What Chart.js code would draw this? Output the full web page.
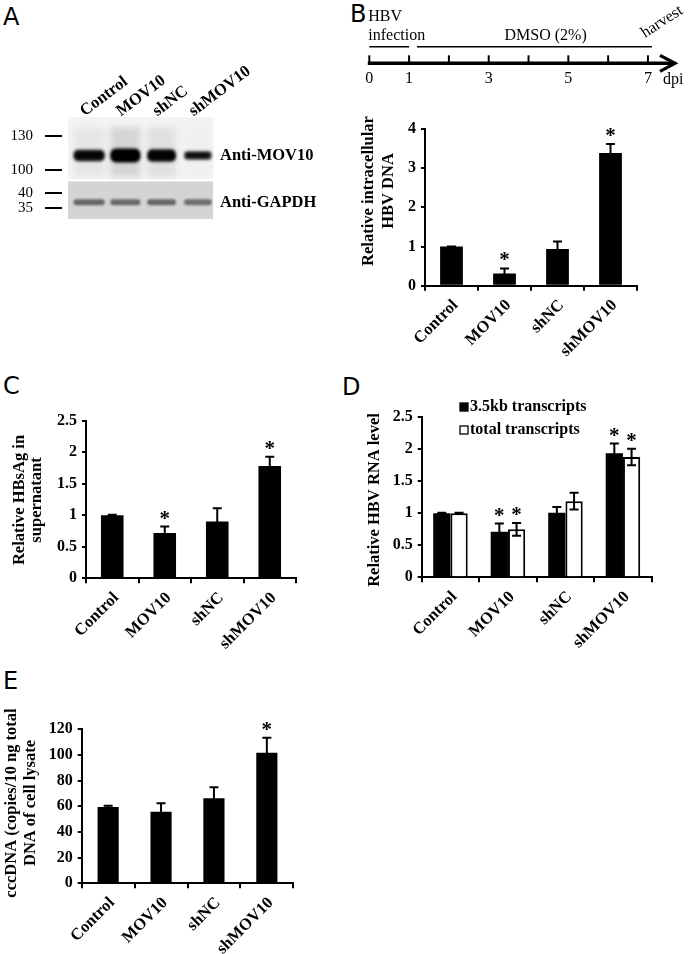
<!DOCTYPE html>
<html>
<head>
<meta charset="utf-8">
<script src="https://cdn.jsdelivr.net/npm/chart.js@4.4.1/dist/chart.umd.min.js"></script>
<style>
body{margin:0;background:#fff;width:693px;height:954px;position:relative;overflow:hidden}
canvas{position:absolute}
.tag{position:absolute;font:24px 'DejaVu Sans',sans-serif;line-height:1;color:#000}
</style>
</head>
<body>
<div class="tag" style="left:3px;top:5px">A</div>
<div class="tag" style="left:350px;top:2px">B</div>
<div class="tag" style="left:3px;top:374px">C</div>
<div class="tag" style="left:342px;top:375px">D</div>
<div class="tag" style="left:3px;top:669px">E</div>

<canvas id="blot" width="350" height="240" style="left:0;top:0"></canvas>
<canvas id="timeline" width="343" height="100" style="left:350px;top:0"></canvas>
<canvas id="chartB" width="343" height="260" style="left:350px;top:100px"></canvas>
<canvas id="chartC" width="345" height="250" style="left:0;top:400px"></canvas>
<canvas id="chartD" width="348" height="270" style="left:345px;top:380px"></canvas>
<canvas id="chartE" width="345" height="274" style="left:0;top:680px"></canvas>

<script>
// ---- data ----
const groups = ['Control', 'MOV10', 'shNC', 'shMOV10'];

// A: western blot (positions on a 0-1 scale of the blot height)
const markerLabels = ['130', '100', '40', '35'];
const markerPos = [0.811, 0.481, 0.255, 0.104];
const probes = ['Anti-MOV10', 'Anti-GAPDH'];
const probePos = [0.623, 0.163];
const panelSplit = [0.391, 0.368];
const mov10Band = [0.75, 1.0, 0.85, 0.45];
const gapdhBand = [0.55, 0.5, 0.55, 0.45];

// B: timeline
const timelineDays = [0, 1, 2, 3, 4, 5, 6, 7];
const timelineLabels = [0, 1, 3, 5, 7];
const phaseNames = [['HBV', 'infection'], ['DMSO (2%)']];
const phaseStart = [0, 1.2];
const phaseEnd = [1, 7.1];
const phaseLabelAt = [0, 4.43];

// B: intracellular HBV DNA
const dnaVals = [1.0, 0.31, 0.94, 3.39];
const dnaErr = [0.0, 0.13, 0.19, 0.23];
const dnaSig = [0, 1, 0, 1];
const ticksB = [0, 1, 2, 3, 4];

// C: HBsAg
const hbsVals = [1.0, 0.72, 0.90, 1.78];
const hbsErr = [0.01, 0.10, 0.21, 0.15];
const hbsSig = [0, 1, 0, 1];
const ticksC = [0, 0.5, 1, 1.5, 2, 2.5];

// D: HBV RNA
const rna35Vals = [1.0, 0.71, 1.01, 1.94];
const rna35Err = [0.01, 0.13, 0.09, 0.15];
const rna35Sig = [0, 1, 0, 1];
const rnaTotVals = [1.0, 0.75, 1.19, 1.88];
const rnaTotErr = [0.01, 0.10, 0.13, 0.13];
const rnaTotSig = [0, 1, 0, 1];
const ticksD = [0, 0.5, 1, 1.5, 2, 2.5];

// E: cccDNA
const cccVals = [59.5, 55.8, 66.2, 101.8];
const cccErr = [1.0, 6.5, 8.6, 11.7];
const cccSig = [0, 0, 0, 1];
const ticksE = [0, 20, 40, 60, 80, 100, 120];

// ---- setup ----
const serif = "'Liberation Serif', 'Times New Roman', serif";
Chart.defaults.font.family = serif;
Chart.defaults.color = '#000';

const errorPlugin = {
  id: 'errorBars',
  afterDatasetsDraw(chart) {
    const ctx = chart.ctx, y = chart.scales.y;
    chart.data.datasets.forEach((ds, di) => {
      chart.getDatasetMeta(di).data.forEach((bar, i) => {
        const v = ds.data[i], e = ds.errors[i];
        const x = bar.x, top = y.getPixelForValue(v + e), bot = y.getPixelForValue(v - e);
        ctx.save();
        ctx.strokeStyle = '#000';
        ctx.lineWidth = 2;
        ctx.beginPath();
        ctx.moveTo(x, top); ctx.lineTo(x, bot);
        ctx.moveTo(x - 4.5, top); ctx.lineTo(x + 4.5, top);
        ctx.moveTo(x - 4.5, bot); ctx.lineTo(x + 4.5, bot);
        ctx.stroke();
        if (ds.stars[i]) {
          ctx.fillStyle = '#000';
          ctx.font = 'bold 21px ' + serif;
          ctx.textAlign = 'center';
          ctx.fillText('*', x, top - 2);
        }
        ctx.restore();
      });
    });
  }
};

const titlePlugin = {
  id: 'yTitle',
  afterDraw(chart, args, o) {
    const ctx = chart.ctx;
    ctx.save();
    ctx.font = 'bold 16.5px ' + serif;
    ctx.fillStyle = '#000';
    ctx.textAlign = 'center';
    ctx.textBaseline = 'middle';
    o.lines.forEach((t, k) => {
      ctx.save();
      ctx.translate(o.x + k * o.gap, o.y);
      ctx.rotate(-Math.PI / 2);
      ctx.fillText(t, 0, 0);
      ctx.restore();
    });
    ctx.restore();
  }
};

const keyPlugin = {
  id: 'keyBox',
  afterDraw(chart, args, o) {
    const ctx = chart.ctx;
    ctx.save();
    ctx.font = 'bold 16px ' + serif;
    ctx.textBaseline = 'middle';
    chart.data.datasets.forEach((ds, k) => {
      const yy = o.y + k * o.gap;
      ctx.fillStyle = ds.backgroundColor;
      ctx.fillRect(o.x, yy - 4, 8, 8);
      ctx.strokeStyle = '#000';
      ctx.lineWidth = 1.3;
      ctx.strokeRect(o.x, yy - 4, 8, 8);
      ctx.fillStyle = '#000';
      ctx.fillText(ds.label, o.x + 10, yy);
    });
    ctx.restore();
  }
};

function barChart(id, datasets, tickVals, box) {
  return new Chart(document.getElementById(id), {
    type: 'bar',
    data: {labels: groups, datasets: datasets},
    options: {
      responsive: false,
      animation: false,
      layout: {padding: {top: box.top, right: box.right, left: 0, bottom: 0}},
      plugins: {
        legend: {display: false},
        tooltip: {enabled: false},
        yTitle: box.title,
        keyBox: box.key || false
      },
      scales: {
        x: {
          grid: {drawOnChartArea: false, offset: true, color: '#000', lineWidth: 2, tickLength: 5},
          border: {color: '#000', width: 2},
          ticks: {font: {size: 16.5, weight: 'bold'}, color: '#000', minRotation: 45, maxRotation: 45,
                  autoSkip: false, padding: 5, labelOffset: 4},
          afterFit: s => { s.height = box.xh; }
        },
        y: {
          min: 0,
          max: tickVals[tickVals.length - 1],
          afterBuildTicks: s => { s.ticks = tickVals.map(v => ({value: v})); },
          grid: {drawOnChartArea: false, color: '#000', lineWidth: 2, tickLength: 4},
          border: {color: '#000', width: 2},
          ticks: {font: {size: 16, weight: 'bold'}, color: '#000', padding: 5, callback: v => String(v)},
          afterFit: s => { s.width = box.yw; }
        }
      }
    },
    plugins: [errorPlugin, titlePlugin, keyPlugin]
  });
}

function blackSeries(label, vals, errs, sig, pct) {
  return {label: label, data: vals, errors: errs, stars: sig, backgroundColor: '#000', borderWidth: 0,
          barPercentage: pct, categoryPercentage: 1};
}

// ---- A: blot ----
const blotPlugin = {
  id: 'blot',
  beforeDatasetsDraw(chart) {
    const {ctx, chartArea: a, scales: {x, y}} = chart;
    const lane = x.getPixelForValue(1) - x.getPixelForValue(0);
    ctx.save();
    ctx.fillStyle = '#f3f3f3';
    ctx.fillRect(a.left, y.getPixelForValue(1), a.width, y.getPixelForValue(panelSplit[0]) - y.getPixelForValue(1));
    ctx.fillStyle = '#d4d4d4';
    ctx.fillRect(a.left, y.getPixelForValue(panelSplit[1]), a.width, y.getPixelForValue(0) - y.getPixelForValue(panelSplit[1]));
    const yb = y.getPixelForValue(probePos[0]);
    const yg = y.getPixelForValue(probePos[1]);
    groups.forEach((g, i) => {
      const cx = x.getPixelForValue(i) + 3;
      const bw = lane * 0.86 - i * 1.2;
      const m = mov10Band[i];
      // smear
      ctx.filter = 'blur(3px)';
      ctx.fillStyle = 'rgba(0,0,0,' + (0.12 * m * m * m) + ')';
      ctx.fillRect(cx - bw / 2, y.getPixelForValue(0.9), bw, y.getPixelForValue(panelSplit[0] + 0.02) - y.getPixelForValue(0.9));
      // MOV10 band
      const h = 4 + 10 * m;
      ctx.filter = 'blur(1.6px)';
      ctx.fillStyle = 'rgba(0,0,0,' + (0.55 + 0.45 * m) + ')';
      ctx.beginPath();
      ctx.roundRect(cx - bw / 2, yb - h / 2, bw, h, h / 2.5);
      ctx.fill();
      ctx.fillStyle = 'rgba(0,0,0,0.9)';
      ctx.beginPath();
      ctx.roundRect(cx - bw / 2 + 2, yb - h / 4, bw - 4, h / 2, h / 4);
      ctx.fill();
      // GAPDH band
      const gv = gapdhBand[i];
      ctx.filter = 'blur(1.2px)';
      ctx.fillStyle = 'rgba(60,60,60,' + (0.4 + 0.6 * gv) + ')';
      ctx.beginPath();
      ctx.roundRect(cx - bw / 2, yg - 3, bw, 6, 3);
      ctx.fill();
    });
    ctx.filter = 'none';
    ctx.restore();
  }
};

new Chart(document.getElementById('blot'), {
  type: 'bar',
  data: {labels: groups, datasets: []},
  options: {
    responsive: false,
    animation: false,
    layout: {padding: {bottom: 17}},
    plugins: {legend: {display: false}, tooltip: {enabled: false}},
    scales: {
      x: {
        position: 'top',
        grid: {display: false, drawTicks: false},
        border: {display: false},
        ticks: {font: {size: 16.5, weight: 'bold'}, color: '#000', minRotation: 37, maxRotation: 37,
                autoSkip: false, padding: -4, labelOffset: 8},
        afterFit: s => { s.height = 117; }
      },
      y: {
        type: 'linear',
        position: 'left',
        min: 0,
        max: 1,
        afterBuildTicks: s => { s.ticks = markerPos.map(v => ({value: v})); },
        ticks: {callback: (v, i) => markerLabels[i], font: {size: 15}, color: '#000', padding: 12},
        grid: {drawOnChartArea: false, color: '#000', lineWidth: 2, tickLength: 23, tickBorderDash: [17, 100]},
        border: {display: false},
        afterFit: s => { s.width = 68; }
      },
      y2: {
        type: 'linear',
        position: 'right',
        min: 0,
        max: 1,
        afterBuildTicks: s => { s.ticks = probePos.map(v => ({value: v})); },
        ticks: {callback: (v, i) => probes[i], font: {size: 16.5, weight: 'bold'}, color: '#000', padding: 7},
        grid: {display: false, drawTicks: false},
        border: {display: false},
        afterFit: s => { s.width = 137; }
      }
    }
  },
  plugins: [blotPlugin]
});

// ---- B: timeline ----
const timelinePlugin = {
  id: 'timeline',
  afterDraw(chart) {
    const {ctx, chartArea: a, scales: {x}} = chart;
    const y0 = a.bottom;
    ctx.save();
    ctx.strokeStyle = '#000';
    ctx.fillStyle = '#000';
    ctx.lineWidth = 3.5;
    ctx.beginPath();
    ctx.moveTo(x.getPixelForValue(0) - 1.5, y0);
    ctx.lineTo(a.right - 2, y0);
    ctx.stroke();
    ctx.lineWidth = 3.2;
    ctx.beginPath();
    ctx.moveTo(a.right - 15, y0 - 8);
    ctx.lineTo(a.right, y0);
    ctx.lineTo(a.right - 15, y0 + 8);
    ctx.stroke();
    ctx.lineWidth = 2;
    timelineDays.forEach(d => {
      const px = x.getPixelForValue(d);
      ctx.beginPath();
      ctx.moveTo(px, y0);
      ctx.lineTo(px, y0 - 8);
      ctx.stroke();
    });
    ctx.lineWidth = 1.5;
    ctx.font = '16px ' + serif;
    phaseNames.forEach((p, k) => {
      ctx.beginPath();
      ctx.moveTo(x.getPixelForValue(phaseStart[k]), y0 - 16.5);
      ctx.lineTo(x.getPixelForValue(phaseEnd[k]), y0 - 16.5);
      ctx.stroke();
      ctx.textAlign = k === 0 ? 'left' : 'center';
      const lx = x.getPixelForValue(phaseLabelAt[k]) - (k === 0 ? 1 : 0);
      p.forEach((t, j) => ctx.fillText(t, lx, y0 - 23 - (p.length - 1 - j) * 19));
    });
    ctx.textAlign = 'left';
    ctx.textBaseline = 'middle';
    ctx.fillText('dpi', a.right - 12, 80);
    ctx.save();
    ctx.translate(x.getPixelForValue(7) - 3, 38);
    ctx.rotate(-33 * Math.PI / 180);
    ctx.textBaseline = 'alphabetic';
    ctx.fillText('harvest', 0, 0);
    ctx.restore();
    ctx.restore();
  }
};

new Chart(document.getElementById('timeline'), {
  type: 'scatter',
  data: {datasets: []},
  options: {
    responsive: false,
    animation: false,
    layout: {padding: {left: 19.3, right: 18, top: 0, bottom: 0}},
    plugins: {legend: {display: false}, tooltip: {enabled: false}},
    scales: {
      x: {
        type: 'linear',
        min: 0,
        max: 7.68,
        afterBuildTicks: s => { s.ticks = timelineLabels.map(v => ({value: v})); },
        grid: {display: false, drawTicks: false},
        border: {display: false},
        ticks: {font: {size: 16}, color: '#000', padding: 6},
        afterFit: s => { s.height = 36.7; }
      },
      y: {display: false}
    }
  },
  plugins: [timelinePlugin]
});

// ---- B ----
barChart('chartB', [blackSeries('HBV DNA', dnaVals, dnaErr, dnaSig, 0.43)], ticksB, {
  yw: 75, xh: 74.3, top: 29, right: 56,
  title: {lines: ['Relative intracellular', 'HBV DNA'], x: 19, y: 91, gap: 20}
});

// ---- C ----
barChart('chartC', [blackSeries('HBsAg', hbsVals, hbsErr, hbsSig, 0.43)], ticksC, {
  yw: 86, xh: 71.7, top: 20.7, right: 49,
  title: {lines: ['Relative HBsAg in', 'supernatant'], x: 20, y: 100, gap: 17}
});

// ---- D ----
barChart('chartD', [
  {label: '3.5kb transcripts', data: rna35Vals, errors: rna35Err, stars: rna35Sig, backgroundColor: '#000',
   borderWidth: 0, categoryPercentage: 0.6, barPercentage: 1},
  {label: 'total transcripts', data: rnaTotVals, errors: rnaTotErr, stars: rnaTotSig, backgroundColor: '#fff',
   borderColor: '#000', borderWidth: 2, categoryPercentage: 0.6, barPercentage: 1}
], ticksD, {
  yw: 76.7, xh: 72.7, top: 37.3, right: 41.3,
  title: {lines: ['Relative HBV RNA level'], x: 30, y: 120, gap: 0},
  key: {x: 115, y: 27, gap: 23}
});

// ---- E ----
barChart('chartE', [blackSeries('cccDNA', cccVals, cccErr, cccSig, 0.4)], ticksE, {
  yw: 81.7, xh: 70.7, top: 49.3, right: 51.7,
  title: {lines: ['cccDNA (copies/10 ng total', 'DNA of cell lysate'], x: 12, y: 123, gap: 19}
});
</script>
</body>
</html>
